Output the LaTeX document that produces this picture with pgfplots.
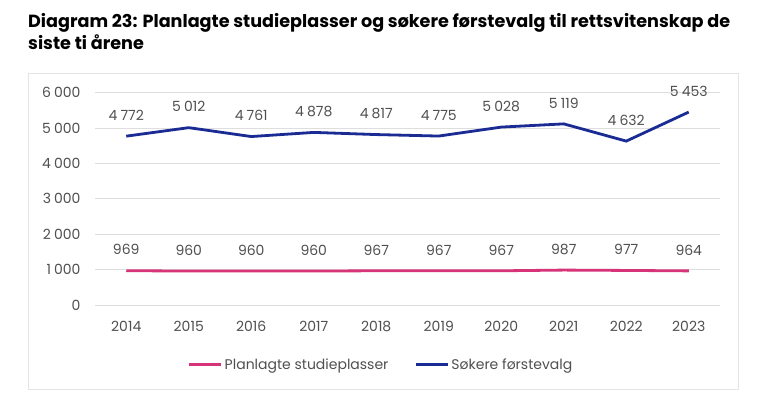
\documentclass[border=0pt]{standalone}
\usepackage{pgfplots}
\pgfplotsset{compat=1.18}
\usepackage{fontspec}
\setmainfont{Poppins}
\definecolor{cblue}{RGB}{26,43,148}
\definecolor{cpink}{RGB}{214,51,120}
\definecolor{ctext}{RGB}{80,80,80}
\definecolor{cgrid}{RGB}{222,222,222}
\definecolor{cbox}{RGB}{228,228,228}
\begin{document}
\begin{tikzpicture}[x=1pt,y=1pt]
\useasboundingbox (0,0) rectangle (768,408);
\fill[white] (0,0) rectangle (768,408);
\node[anchor=base west,inner sep=0pt,font=\fontsize{17.6}{20}\selectfont\bfseries] at (28,380) {Diagram 23: Planlagte studieplasser og søkere førstevalg til rettsvitenskap de};
\node[anchor=base west,inner sep=0pt,font=\fontsize{17.6}{20}\selectfont\bfseries] at (28,359) {siste ti årene};
\draw[cbox,line width=1pt] (28,19) rectangle (738,335);
\begin{axis}[
  at={(95pt,103pt)}, anchor=south west,
  scale only axis, width=625pt, height=212.3pt,
  xmin=-0.5, xmax=9.5, ymin=0, ymax=6000,
  xtick={0,...,9},
  xticklabels={2014,2015,2016,2017,2018,2019,2020,2021,2022,2023},
  ytick={0,1000,...,6000},
  scaled y ticks=false,
  axis line style={draw=none},
  major tick length=0pt,
  ymajorgrids, grid style={cgrid,line width=0.8pt},
  /pgf/number format/.cd, 1000 sep={\hspace{0.22em}}, assume math mode=true,
  /pgfplots/.cd,
  ticklabel style={font=\fontsize{14}{16}\selectfont, text=ctext},
  yticklabel style={xshift=-11pt},
  xticklabel style={yshift=-13pt},
  nodes near coords,
  every node near coord/.style={font=\fontsize{14}{16}\selectfont, text=ctext, anchor=south, yshift=11pt},
  legend columns=2,
  legend style={draw=none, fill=none, at={(0.4576,-0.281)}, anchor=center,
    font=\fontsize{14}{16}\selectfont, text=ctext,
    /tikz/every even column/.append style={column sep=24pt}},
  legend cell align=left,
  legend image code/.code={\draw[line width=3pt] (0pt,0pt) -- (32pt,0pt);},
]
\addplot[cpink, line width=2.8pt, mark=none] coordinates {
(0,969) (1,960) (2,960) (3,960) (4,967) (5,967) (6,967) (7,987) (8,977) (9,964)};
\addlegendentry{Planlagte studieplasser}
\addplot[cblue, line width=2.8pt, mark=none] coordinates {
(0,4772) (1,5012) (2,4761) (3,4878) (4,4817) (5,4775) (6,5028) (7,5119) (8,4632) (9,5453)};
\addlegendentry{Søkere førstevalg}
\end{axis}
\end{tikzpicture}
\end{document}
